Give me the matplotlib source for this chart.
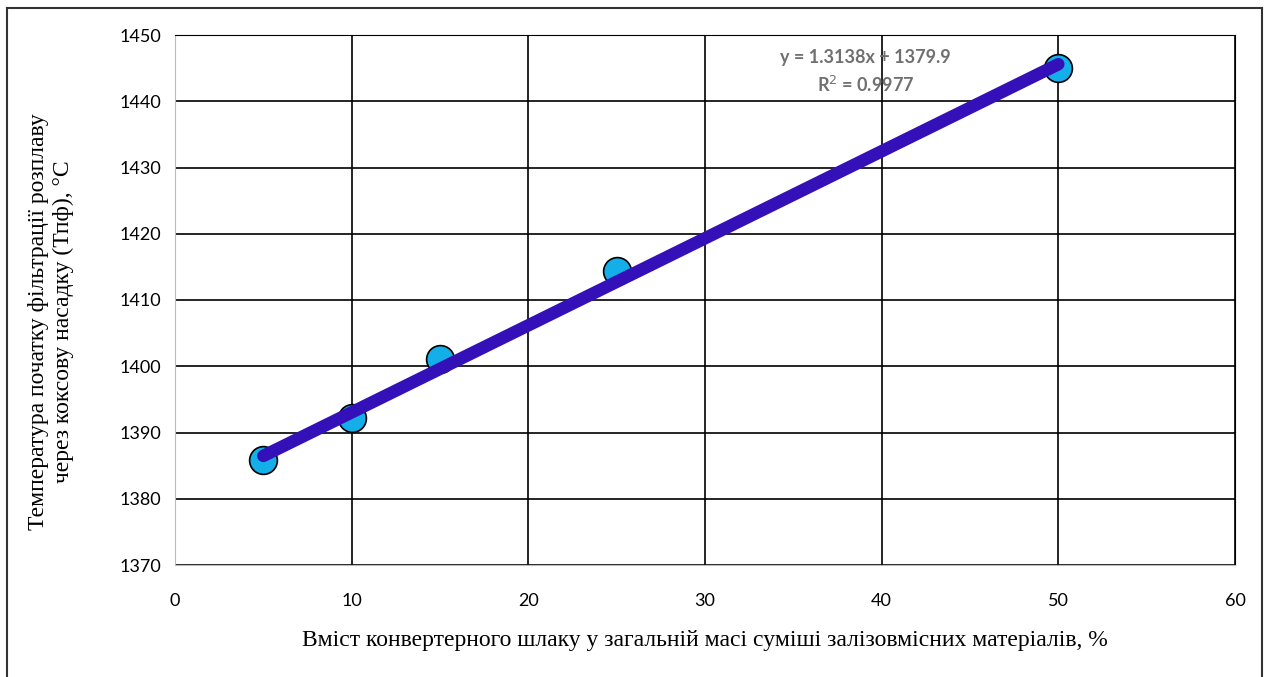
import numpy as np
from matplotlib import pyplot as plt
from matplotlib.lines import Line2D

slag = [5, 10, 15, 25, 50]
temp = [1385.8, 1392.2, 1401.1, 1414.4, 1445.0]
x_ticks = [0, 10, 20, 30, 40, 50, 60]
y_ticks = [1370, 1380, 1390, 1400, 1410, 1420, 1430, 1440, 1450]

slope, intercept = 1.3138, 1379.9

fig = plt.figure(figsize=(12.68, 6.77), dpi=100)
ax = fig.add_axes([175 / 1268, 1 - 565 / 677, 1060 / 1268, 530 / 677])

# outer chart frame
for xs, ys in [([7, 7], [0, 669]), ([7, 1262], [669, 669]), ([1262, 1262], [669, 0])]:
    fig.add_artist(Line2D(np.array(xs) / 1268, np.array(ys) / 677,
                          transform=fig.transFigure, color='#333333', lw=1.5))

ax.set_xlim(0, 60)
ax.set_ylim(1370, 1450)
ax.set_xticks(x_ticks)
ax.set_yticks(y_ticks)
ax.grid(True, color='black', lw=1.2)
ax.set_axisbelow(True)
ax.tick_params(length=0, labelsize=13, pad=10)
for lab in ax.get_xticklabels() + ax.get_yticklabels():
    lab.set_family('Lato')
ax.tick_params(axis='x', pad=20)
for s in ['left', 'bottom']:
    ax.spines[s].set_color('#bbbbbb')
ax.spines['top'].set_color('black')
ax.spines['right'].set_color('black')

ax.scatter(slag, temp, s=400, marker='o', facecolor='#14aee8', edgecolor='black',
           lw=1.2, zorder=3)
xt = np.array([slag[0], slag[-1]])
ax.plot(xt, slope * xt + intercept, color='#3410b8', lw=9, solid_capstyle='round', zorder=4)

ax.text(39.1, 1444.4, 'y = 1.3138x + 1379.9\nR$^2$ = 0.9977', ha='center', va='center',
        fontsize=13, fontweight='bold', color='#707070', family='Lato',
        linespacing=1.5)

ax.set_xlabel('Вміст конвертерного шлаку у загальній масі суміші залізовмісних матеріалів, %',
              family='Liberation Serif', fontsize=17, labelpad=15)
ax.set_ylabel('Температура початку фільтрації розплаву\nчерез коксову насадку (Тпф), °С',
              family='Liberation Serif', fontsize=17, va='center')
ax.yaxis.set_label_coords(-0.117, 0.46)

plt.savefig('out.png', dpi=100)
